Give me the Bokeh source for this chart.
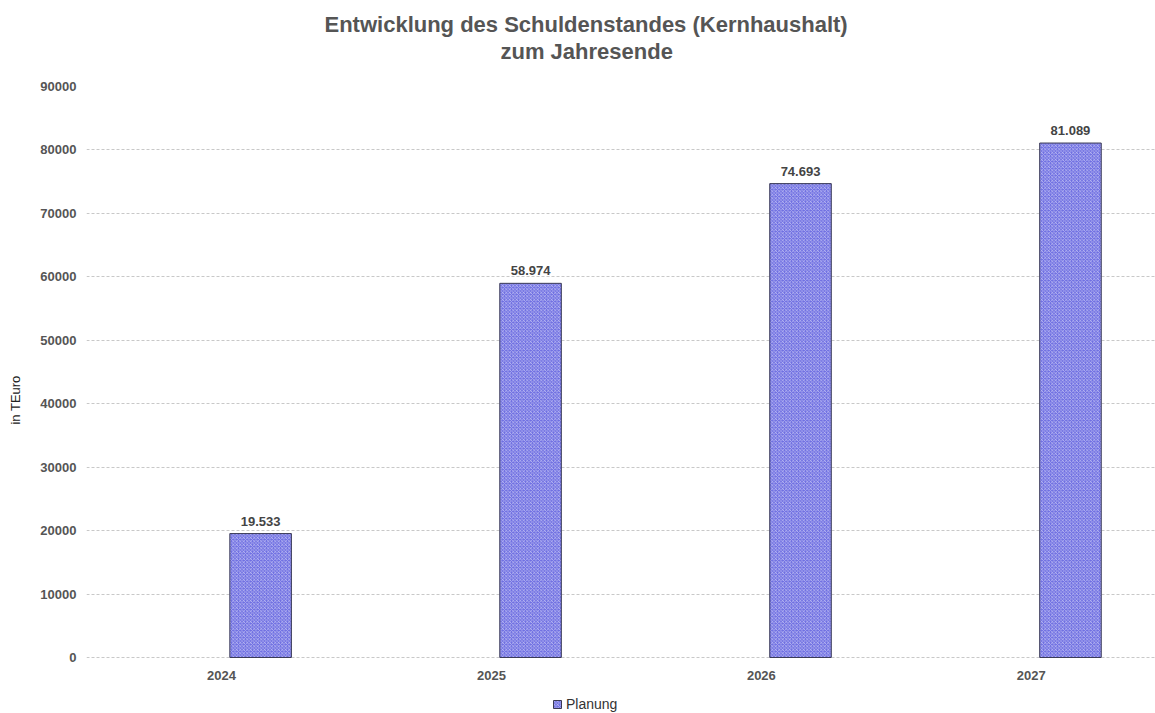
from bokeh.plotting import figure
from bokeh.models import (ColumnDataSource, Legend, LegendItem, FixedTicker, Range1d,
                          Title, LinearAxis)
from bokeh.core.properties import value
from bokeh.embed import file_html
from bokeh.resources import INLINE

years = ["2024", "2025", "2026", "2027"]
values = [19533, 58974, 74693, 81089]
series_name = "Planung"
title_line1 = "Entwicklung des Schuldenstandes (Kernhaushalt)"
title_line2 = "zum Jahresende"
y_label = "in TEuro"
y_ticks = [0, 10000, 20000, 30000, 40000, 50000, 60000, 70000, 80000, 90000]

FONT = "Liberation Sans"
BAR_OFFSET = 0.145
BAR_WIDTH = 0.228

idx = list(range(len(years)))
labels = [f"{v:,}".replace(",", ".") for v in values]
src = ColumnDataSource(dict(
    x=[i + BAR_OFFSET for i in idx], top=values, lab=labels))
cat_src = ColumnDataSource(dict(x=idx, y=[0] * len(idx), lab=years))

# the frame reaches the bottom edge so the legend can sit below the baseline
p = figure(width=1155, height=713, output_backend="svg", toolbar_location=None,
           x_range=Range1d(-0.5, 3.46), y_range=Range1d(-8827, 90000),
           x_axis_location=None,
           min_border_left=86, min_border_right=0, min_border_top=86,
           min_border_bottom=0)
p.outline_line_color = None
p.background_fill_color = "white"
p.border_fill_color = "white"

# invisible spacer axis directly above the frame (one hidden tick, empty label)
spacer = LinearAxis(ticker=FixedTicker(ticks=[3.4]), axis_line_alpha=0,
                    major_label_overrides={3.4: ""},
                    major_tick_out=23, major_tick_in=0, major_tick_line_alpha=0,
                    minor_tick_out=0, minor_tick_in=0, major_label_standoff=0)
p.add_layout(spacer, "above")

# items added to "above" stack outward from the frame
t2 = Title(text=title_line2, align="left", offset=414, text_font=FONT,
           text_font_size="22px", text_font_style="bold", text_color="#555555",
           standoff=0)
t1 = Title(text=title_line1, align="left", offset=238, text_font=FONT,
           text_font_size="22px", text_font_style="bold", text_color="#555555",
           standoff=0)
p.add_layout(t2, "above")
p.add_layout(t1, "above")

bars = p.vbar(x="x", top="top", width=BAR_WIDTH, bottom=0, source=src,
              fill_color="#6f6fe2", line_color="#3a3a55", line_width=1,
              hatch_pattern="diagonal_cross", hatch_color="white",
              hatch_alpha=0.55, hatch_scale=3.5, hatch_weight=0.8)

p.text(x="x", y="top", text="lab", source=src, text_align="center",
       text_baseline="bottom", y_offset=-8, text_font=value(FONT),
       text_font_size="13px", text_font_style="bold", text_color="#444444")

# category (year) labels under the baseline
p.text(x="x", y="y", text="lab", source=cat_src, text_align="center",
       text_baseline="middle", y_offset=18, text_font=value(FONT),
       text_font_size="13px", text_font_style="bold", text_color="#555555")

p.yaxis.ticker = FixedTicker(ticks=y_ticks)
p.yaxis.axis_line_color = None
p.yaxis.major_tick_line_color = None
p.yaxis.minor_tick_line_color = None
p.yaxis.major_label_standoff = 4
p.yaxis.major_label_text_font = FONT
p.yaxis.major_label_text_font_size = "13px"
p.yaxis.major_label_text_font_style = "bold"
p.yaxis.major_label_text_color = "#555555"
p.yaxis.axis_label = y_label
p.yaxis.axis_label_text_font = FONT
p.yaxis.axis_label_text_font_size = "13px"
p.yaxis.axis_label_text_font_style = "normal"
p.yaxis.axis_label_text_color = "#222222"
p.yaxis.axis_label_standoff = 14

p.xgrid.grid_line_color = None
p.ygrid.grid_line_color = "#c8c8c8"
p.ygrid.grid_line_dash = "3 2"
p.ygrid.grid_line_width = 1

legend = Legend(items=[LegendItem(label=series_name, renderers=[bars])],
                location=(466, 1), orientation="horizontal",
                label_text_font=FONT, label_text_font_size="14px",
                label_text_color="#333333", glyph_width=10, glyph_height=10,
                label_height=14,
                padding=0, margin=0, spacing=0, label_standoff=4,
                background_fill_alpha=0, border_line_color=None)
p.add_layout(legend)

open("out.html", "w").write(file_html(p, INLINE))
